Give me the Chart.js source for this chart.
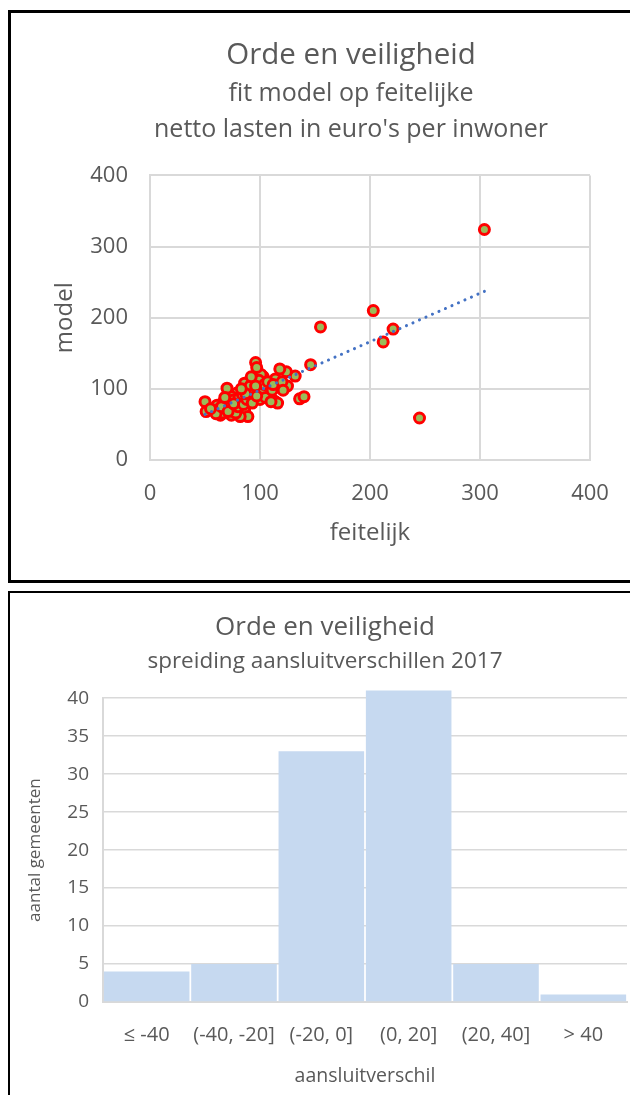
<!DOCTYPE html>
<html>
<head>
<meta charset="utf-8">
<script src="https://cdn.jsdelivr.net/npm/chart.js@4.4.1/dist/chart.umd.min.js"></script>
<style>
  html, body { margin: 0; padding: 0; background: #fff; overflow: hidden; width: 630px; height: 1095px; }
  .box { position: absolute; box-sizing: border-box; border: 3px solid #000; background: #fff; }
  canvas { position: absolute; }
</style>
</head>
<body>
<div class="box" style="left:8px; top:10px; width:720px; height:573px;"></div>
<div class="box" style="left:8px; top:591px; width:720px; height:600px; border-width:2px;"></div>
<canvas id="scatter" width="680" height="567" style="left:11px; top:13px;"></canvas>
<canvas id="hist" width="630" height="502" style="left:10px; top:593px;"></canvas>
<script>
// ---- data: fit model vs actual (euro per inwoner)
const feitelijk = [304, 203, 212, 221, 245, 155, 146, 132, 124, 118, 125, 136, 140, 113, 116,
  114, 103, 109, 106, 100, 101, 96, 97, 94, 86, 89, 79, 74, 83, 67, 61, 50, 51, 70, 77, 86,
  100, 92, 64, 74, 89, 82, 70, 58, 63, 66, 69, 72, 75, 78, 80, 81, 84, 85, 88, 90, 91, 93,
  95, 98, 99, 102, 104, 105, 107, 111, 112, 120, 121, 60, 65, 71, 76, 87, 96, 55, 68, 83,
  92, 97, 110]
const model = [324, 210, 166, 184, 59, 187, 134, 118, 124, 128, 104, 86, 89, 83, 80,
  114, 117, 103, 92, 108, 120, 137, 130, 110, 108, 96, 94, 89, 82, 82, 77, 82, 68, 73, 70, 70,
  85, 89, 63, 63, 61, 61, 101, 70, 72, 66, 80, 77, 84, 66, 75, 88, 92, 78, 85, 100, 104, 80,
  95, 98, 112, 97, 106, 88, 110, 98, 106, 110, 98, 65, 75, 68, 79, 93, 104, 72, 88, 100,
  117, 90, 82]

// ---- data: spreiding aansluitverschillen
const klassen = ['≤ -40', '(-40, -20]', '(-20, 0]', '(0, 20]', '(20, 40]', '> 40']
const aantallen = [4, 5, 33, 41, 5, 1]

const grey = '#595959'
const gridGrey = '#d9d9d9'
const family = "'Open Sans', sans-serif"

// linear trendline through the scatter points
const n = feitelijk.length
const mx = feitelijk.reduce((a, b) => a + b, 0) / n
const my = model.reduce((a, b) => a + b, 0) / n
let sxy = 0, sxx = 0
for (let i = 0; i < n; i++) {
  sxy += (feitelijk[i] - mx) * (model[i] - my)
  sxx += (feitelijk[i] - mx) ** 2
}
const slope = sxy / sxx
const icpt = my - slope * mx
const xMin = Math.min(...feitelijk)
const xMax = Math.max(...feitelijk)
const trend = [xMin, xMax].map(x => ({ x: x, y: icpt + slope * x }))

const points = feitelijk.map((f, i) => ({ x: f, y: model[i] }))

// empty axis on the right, only to reserve room so the titles stay centred on the canvas
const spacer = (w) => ({
  type: 'linear',
  position: 'right',
  ticks: { display: false },
  grid: { display: false, drawTicks: false },
  border: { display: false },
  afterFit: s => { s.width = w },
})

new Chart(document.getElementById('scatter'), {
  type: 'scatter',
  data: {
    datasets: [
      {
        type: 'line',
        data: trend,
        borderColor: '#4472c4',
        borderWidth: 3,
        borderDash: [0.1, 7],
        borderCapStyle: 'round',
        pointRadius: 0,
        fill: false,
        order: 0,
      },
      {
        data: points,
        pointRadius: 5,
        pointBorderWidth: 3,
        pointBorderColor: '#ff0000',
        pointBackgroundColor: '#9bbb59',
        order: 1,
      },
    ]
  },
  options: {
    responsive: false,
    animation: false,
    layout: { padding: { left: 0, right: 0, top: 0, bottom: 20 } },
    plugins: {
      legend: { display: false },
      tooltip: { enabled: false },
      title: {
        display: true,
        text: 'Orde en veiligheid',
        color: grey,
        font: { family: family, size: 29.5, weight: 'normal' },
        padding: { top: 25, bottom: 0 },
      },
      subtitle: {
        display: true,
        text: ['fit model op feitelijke', "netto lasten in euro's per inwoner"],
        color: grey,
        font: { family: family, size: 25, weight: 'normal', lineHeight: 1.44 },
        padding: { top: 2, bottom: 28 },
      },
    },
    scales: {
      x: {
        min: 0, max: 400,
        ticks: { stepSize: 100, color: grey, padding: 21, font: { family: family, size: 22 } },
        grid: { color: gridGrey, lineWidth: 2, drawTicks: false },
        border: { color: gridGrey, width: 2 },
        title: { display: true, text: 'feitelijk', color: grey, padding: { bottom: 12 },
          font: { family: family, size: 24 } },
        afterFit: s => { s.height = 100 },
      },
      y: {
        min: 0, max: 400,
        ticks: { stepSize: 100, color: grey, padding: 22, font: { family: family, size: 22 } },
        grid: { color: gridGrey, lineWidth: 2, drawTicks: false },
        border: { color: gridGrey, width: 2 },
        title: { display: true, text: 'model', color: grey, padding: { top: 40 },
          font: { family: family, size: 24 } },
        afterFit: s => { s.width = 139 },
      },
      y2: spacer(101),
    },
  }
})

new Chart(document.getElementById('hist'), {
  type: 'bar',
  data: {
    labels: klassen,
    datasets: [{
      data: aantallen,
      backgroundColor: '#c6d9f0',
      categoryPercentage: 1,
      barPercentage: 0.98,
      clip: false,
    }]
  },
  options: {
    responsive: false,
    animation: false,
    layout: { padding: { left: 0, right: 0, top: 0, bottom: 0 } },
    plugins: {
      legend: { display: false },
      tooltip: { enabled: false },
      title: {
        display: true,
        text: 'Orde en veiligheid',
        color: grey,
        font: { family: family, size: 26, weight: 'normal' },
        padding: { top: 19, bottom: 0 },
      },
      subtitle: {
        display: true,
        text: 'spreiding aansluitverschillen 2017',
        color: grey,
        font: { family: family, size: 22.5, weight: 'normal' },
        padding: { top: 5, bottom: 23 },
      },
    },
    scales: {
      x: {
        ticks: { color: grey, padding: 13, maxRotation: 0, minRotation: 0, autoSkip: false,
          font: { family: family, size: 20 } },
        grid: { display: false },
        border: { color: gridGrey, width: 2 },
        title: { display: true, text: 'aansluitverschil', color: grey, padding: { bottom: 7 },
          font: { family: family, size: 19.5 } },
        afterFit: s => { s.height = 93 },
      },
      y: {
        min: 0, max: 40,
        ticks: { stepSize: 5, color: grey, padding: 14, font: { family: family, size: 19 } },
        grid: { color: gridGrey, lineWidth: 1.5, drawTicks: false },
        border: { color: gridGrey, width: 2 },
        title: { display: true, text: 'aantal gemeenten', color: grey, padding: { top: 15 },
          font: { family: family, size: 17 } },
        afterFit: s => { s.width = 93 },
      },
      y2: spacer(13),
    },
  }
})
</script>
</body>
</html>
